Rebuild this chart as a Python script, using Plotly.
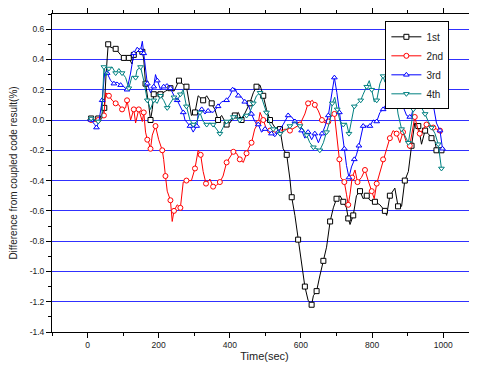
import plotly.graph_objects as go

# ---- data ----
t1 = [0,10,20,30,40,47,52,58,65,79,93,102,111,116,125,130,144,154,158,163,172,177,182,186,196,205,219,233,243,257,266,278,292,302,311,325,335,349,358,367,377,391,400,414,424,433,447,456,466,475,485,494,503,513,527,541,550,560,569,574,583,592,602,611,620,630,635,644,653,663,672,682,691,700,710,719,728,733,738,747,756,766,775,785,794,808,822,836,841,850,864,873,883,892,902,911,920,930,939,949,958,967,977,981,991,995]
v1 = [0.0,0.01,0.0,0.01,0.03,0.08,0.30,0.50,0.48,0.47,0.43,0.41,0.42,0.41,0.37,0.43,0.46,0.45,0.40,0.24,0.10,0.0,0.07,0.17,0.18,0.17,0.19,0.21,0.19,0.26,0.24,0.22,0.03,0.05,0.16,0.13,0.16,0.11,0.07,0.0,0.03,-0.03,-0.02,0.03,0.05,0.0,0.07,0.11,0.18,0.22,0.23,0.16,0.07,0.0,-0.05,-0.06,-0.19,-0.23,-0.39,-0.51,-0.63,-0.79,-0.95,-1.10,-1.19,-1.22,-1.16,-1.13,-1.03,-0.93,-0.84,-0.67,-0.58,-0.52,-0.50,-0.54,-0.58,-0.65,-0.69,-0.63,-0.50,-0.47,-0.52,-0.50,-0.53,-0.54,-0.56,-0.60,-0.63,-0.50,-0.45,-0.57,-0.57,-0.40,-0.34,-0.17,-0.02,-0.04,-0.16,-0.07,-0.09,-0.12,-0.14,-0.20,-0.21,-0.20]

t2 = [0,10,20,30,40,46,51,60,69,79,88,97,107,111,121,130,135,144,154,158,163,168,172,177,182,191,200,210,214,219,224,233,238,243,252,261,269,278,292,302,311,318,325,333,344,353,363,372,381,391,400,410,419,428,438,447,452,461,470,480,485,494,503,513,527,541,555,569,583,597,611,620,632,639,649,659,668,677,686,694,701,708,712,722,728,733,738,744,752,759,770,780,789,799,806,813,822,831,841,850,859,869,878,887,897,906,916,920,930,934,944,953,963,972,981,991,995]
v2 = [0.0,0.0,-0.01,0.0,0.01,0.03,0.18,0.16,0.13,0.11,0.10,0.07,0.08,0.13,0.0,0.07,-0.02,0.07,-0.01,0.05,-0.08,-0.13,-0.15,-0.19,-0.10,-0.04,-0.13,-0.20,-0.26,-0.37,-0.47,-0.53,-0.67,-0.60,-0.56,-0.58,-0.41,-0.40,-0.40,-0.32,-0.20,-0.23,-0.34,-0.42,-0.39,-0.44,-0.43,-0.41,-0.37,-0.28,-0.25,-0.21,-0.22,-0.26,-0.28,-0.22,-0.19,-0.15,-0.06,-0.02,0.05,0.0,-0.06,-0.07,-0.08,-0.08,-0.06,-0.07,-0.05,-0.03,0.04,0.11,0.13,0.10,0.06,0.0,-0.02,-0.01,0.03,0.04,-0.10,-0.26,-0.38,-0.41,-0.49,-0.56,-0.49,-0.38,-0.33,-0.41,-0.38,-0.33,-0.40,-0.47,-0.52,-0.42,-0.34,-0.26,-0.19,-0.12,-0.07,-0.09,-0.15,-0.08,-0.15,-0.17,-0.02,0.02,-0.07,-0.09,-0.06,-0.03,-0.04,-0.05,-0.06,-0.07,-0.09]

t3 = [0,10,20,25,32,41,48,55,65,74,83,93,102,111,121,130,139,149,154,158,163,168,177,186,191,196,205,214,224,233,243,252,261,269,274,288,297,307,311,321,330,339,353,367,377,391,400,408,414,424,433,442,452,461,470,480,489,499,508,517,527,536,550,564,574,583,592,602,611,620,630,639,649,659,668,677,686,694,701,708,714,722,728,735,742,750,756,763,770,775,785,794,803,813,822,831,841,850,859,869,878,887,897,906,911,916,925,934,944,953,963,972,981,991,995,998]
v3 = [0.0,0.0,-0.03,-0.05,-0.01,0.13,0.31,0.31,0.26,0.24,0.25,0.23,0.22,0.20,0.31,0.44,0.48,0.46,0.52,0.44,0.35,0.24,0.18,0.22,0.30,0.26,0.20,0.22,0.24,0.21,0.16,0.13,0.09,0.05,0.0,-0.04,-0.08,-0.04,0.04,0.07,0.04,0.06,0.05,0.09,0.12,0.13,0.16,0.20,0.21,0.16,0.15,0.12,0.10,0.04,-0.01,-0.03,-0.08,-0.06,-0.07,-0.09,-0.11,-0.08,-0.03,0.03,0.02,-0.01,-0.04,-0.07,-0.12,-0.08,-0.13,-0.09,-0.15,-0.09,-0.04,0.03,0.16,0.28,0.18,0.05,-0.08,-0.19,-0.30,-0.38,-0.31,-0.26,-0.23,-0.17,-0.10,-0.04,-0.04,-0.04,0.0,-0.01,0.05,0.07,0.11,0.12,0.09,0.13,0.11,0.09,0.03,0.02,0.03,0.09,0.18,0.10,0.12,0.18,0.17,0.10,-0.02,-0.07,-0.15,-0.19]

t4 = [0,10,20,30,40,46,51,60,69,79,88,97,107,116,125,135,139,149,158,168,177,186,196,205,214,224,233,243,252,261,269,278,288,297,307,316,325,335,344,353,363,372,381,391,400,410,419,428,438,447,456,466,475,485,494,503,513,522,531,541,555,569,583,597,606,616,625,635,644,653,663,672,682,688,695,702,710,719,728,735,742,750,759,768,775,785,792,799,806,813,822,831,836,845,855,864,873,883,892,902,911,916,920,930,939,949,958,967,977,986,991,995]
v4 = [0.0,0.01,0.0,-0.01,0.01,0.35,0.29,0.34,0.35,0.31,0.34,0.31,0.28,0.21,0.29,0.28,0.33,0.35,0.26,0.13,0.07,0.13,0.11,0.16,0.13,0.08,0.11,0.15,0.13,0.17,0.20,0.09,0.0,-0.03,-0.01,0.05,-0.01,-0.03,-0.02,-0.03,-0.06,-0.09,-0.05,-0.01,0.0,0.02,0.03,0.0,0.03,0.03,0.05,0.11,0.16,0.18,0.12,0.05,-0.03,-0.06,-0.05,-0.09,-0.07,-0.04,-0.01,-0.04,-0.06,-0.10,-0.15,-0.18,-0.19,-0.20,-0.15,-0.08,0.0,0.11,0.15,0.07,-0.01,-0.03,-0.02,-0.09,-0.01,0.09,0.11,0.13,0.17,0.22,0.26,0.20,0.12,0.13,0.24,0.29,0.25,0.26,0.28,0.20,0.04,-0.06,-0.10,-0.15,-0.02,0.07,0.21,0.17,0.08,0.04,-0.01,-0.05,-0.09,-0.16,-0.26,-0.32]

names = ["1st", "2nd", "3rd", "4th"]
x_tick_vals = [0, 200, 400, 600, 800, 1000]
y_tick_vals = [0.6, 0.4, 0.2, 0.0, -0.2, -0.4, -0.6, -0.8, -1.0, -1.2, -1.4]
y_tick_text = ["0.6", "0.4", "0.2", "0.0", "-0.2", "-0.4", "-0.6", "-0.8", "-1.0", "-1.2", "-1.4"]

colors = ["#000000", "#ff0000", "#0000ff", "#008080"]
symbols = ["square", "circle", "triangle-up", "triangle-down"]

fig = go.Figure()
for ts, vs, name, col, sym in zip([t1, t2, t3, t4], [v1, v2, v3, v4], names, colors, symbols):
    fig.add_trace(go.Scatter(x=ts, y=vs, mode="lines", line=dict(color=col, width=1),
                             showlegend=False, hoverinfo="skip"))
    fig.add_trace(go.Scatter(x=ts[1::2], y=vs[1::2], mode="markers",
                             marker=dict(symbol=sym, size=5, color="white",
                                         line=dict(color=col, width=1)),
                             showlegend=False))
for name, col, sym in zip(names, colors, symbols):
    fig.add_trace(go.Scatter(x=[None], y=[None], mode="lines+markers", name=name,
                             line=dict(color=col, width=1),
                             marker=dict(symbol=sym, size=5, color="white",
                                         line=dict(color=col, width=1))))

font = "Liberation Sans, Arial, sans-serif"
# page body has an 8px margin, so the figure is 8px smaller than the window
fig.update_layout(
    width=469, height=366,
    margin=dict(l=44, r=0, t=2, b=42),
    paper_bgcolor="white", plot_bgcolor="white",
    font=dict(family=font, size=9, color="#222222"),
    legend=dict(x=0.935, y=0.977, xanchor="right", yanchor="top",
                bordercolor="#000000", borderwidth=1, bgcolor="white",
                font=dict(size=10, color="#222222"), tracegroupgap=0,
                itemwidth=30),
    xaxis=dict(range=[-100, 1095], tickmode="array", tickvals=x_tick_vals,
               ticks="outside", ticklen=5, tickwidth=1, tickcolor="black",
               showline=True, linecolor="black", linewidth=1, mirror="ticks",
               showgrid=False, zeroline=False,
               minor=dict(dtick=100, tick0=0, ticklen=3, ticks="outside", tickcolor="black", showgrid=False),
               tickfont=dict(size=8.5),
               title=dict(text="Time(sec)", font=dict(size=11), standoff=3)),
    yaxis=dict(range=[-1.4, 0.7], tickmode="array", tickvals=y_tick_vals, ticktext=y_tick_text,
               ticks="outside", ticklen=5, tickwidth=1, tickcolor="black",
               showline=True, linecolor="black", linewidth=1,
               showgrid=True, gridcolor="#3030ff", gridwidth=1, zeroline=False,
               minor=dict(dtick=0.1, tick0=0, ticklen=3, ticks="outside", tickcolor="black", showgrid=False),
               tickfont=dict(size=8.5),
               title=dict(text="Difference from coupled code result(%)", font=dict(size=10), standoff=11)),
)

fig.write_html("out.html")
